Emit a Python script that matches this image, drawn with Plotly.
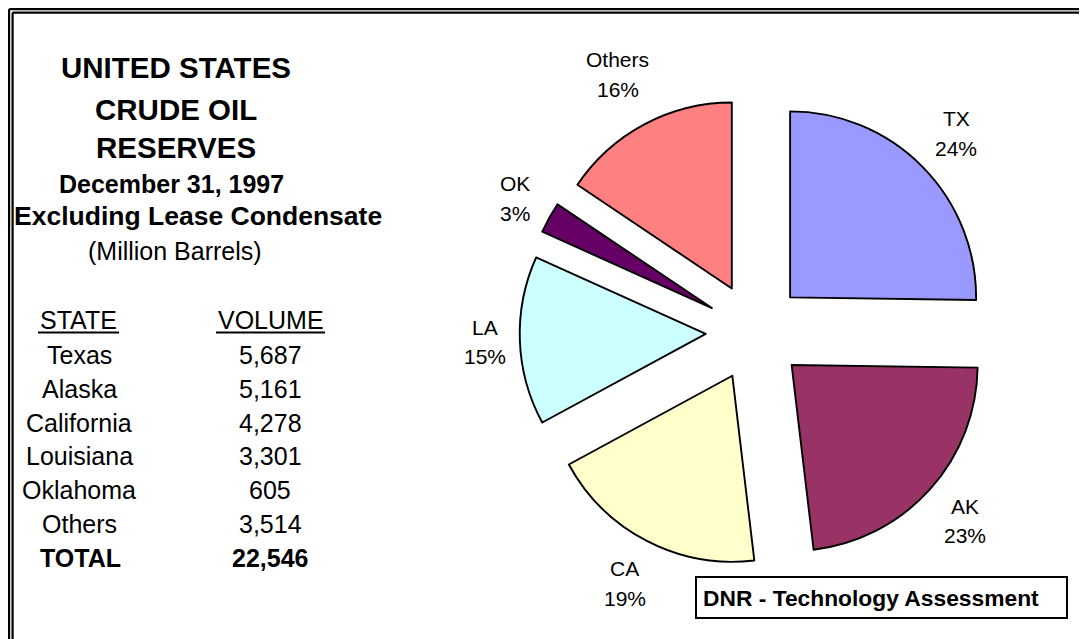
import math
import plotly.graph_objects as go

# ---- data ----
states = ["Texas", "Alaska", "California", "Louisiana", "Oklahoma", "Others"]
volumes = [5687, 5161, 4278, 3301, 605, 3514]
total_volume = 22546
pie_labels = ["TX", "AK", "CA", "LA", "OK", "Others"]
pie_pct_labels = ["24%", "23%", "19%", "15%", "3%", "16%"]
slice_colors = ["#9999FF", "#993366", "#FFFFCC", "#CCFFFF", "#660066", "#FF8080"]

title_lines = ["UNITED STATES", "CRUDE OIL", "RESERVES"]
sub_lines = ["December 31, 1997", "Excluding Lease Condensate"]
unit_line = "(Million Barrels)"
col_headers = ["STATE", "VOLUME"]
footer_text = "DNR - Technology Assessment"

W, H = 1087, 639
OX, OY = 8, 8          # page body offset of the plot div
FONT = "Arial, Liberation Sans, sans-serif"


def px(x):
    return (x - OX) / W


def py(y):
    return 1 - (y - OY) / H


# ---- pie layout (page pixels) ----
PULL = 0.265
PIE_CX, PIE_CY, PIE_HALF = 755, 332, 235.3
dom_x = [px(PIE_CX - PIE_HALF), px(PIE_CX + PIE_HALF)]
dom_y = [py(PIE_CY + PIE_HALF), py(PIE_CY - PIE_HALF)]

fig = go.Figure()
fig.add_trace(go.Pie(
    labels=pie_labels,
    values=volumes,
    textinfo="none",
    marker=dict(colors=slice_colors, line=dict(color="black", width=1.9)),
    pull=[PULL] * len(volumes),
    sort=False,
    direction="clockwise",
    rotation=0,
    showlegend=False,
    hoverinfo="skip",
    domain=dict(x=dom_x, y=dom_y),
))

annotations = []


def add_text(txt, x, y, size, bold=False, xanchor="center"):
    annotations.append(dict(
        text=f"<b>{txt}</b>" if bold else txt,
        x=px(x), y=py(y), xref="paper", yref="paper",
        xanchor=xanchor, yanchor="middle", showarrow=False,
        font=dict(family=FONT, size=size, color="black"),
    ))


# ---- slice labels placed outside each slice, along its bisector ----
LFS = 21
LSP = 29.5
GAP = 17
box_px = min((dom_x[1] - dom_x[0]) * W, (dom_y[1] - dom_y[0]) * H)
r = box_px / (2 * (1 + PULL))
r_out = r * (1 + PULL)
total = sum(volumes)
cum = 0
for lab, pct, v in zip(pie_labels, pie_pct_labels, volumes):
    th = 2 * math.pi * (cum + v / 2) / total
    cum += v
    sx, sy = math.sin(th), -math.cos(th)
    hw = 0.5 * max(len(lab), len(pct)) * 0.55 * LFS
    hh = 26
    d = r_out + GAP + hw * abs(sx) + hh * abs(sy)
    lx, ly = PIE_CX + d * sx, PIE_CY + d * sy
    add_text(lab, lx, ly - LSP / 2, LFS)
    add_text(pct, lx, ly + LSP / 2, LFS)

# ---- title block ----
title_y = [67, 109, 147]
for t, yy in zip(title_lines, title_y):
    add_text(t, 176, yy, 29.5, bold=True)
add_text(sub_lines[0], 171, 184, 25, bold=True)
add_text(sub_lines[1], 198, 216, 26.5, bold=True)
add_text(unit_line, 175, 251, 25)

# ---- table ----
shapes = []
STATE_X, VOL_X = 78, 270
for hdr, cx, (ux0, ux1) in zip(col_headers, (STATE_X, VOL_X + 1), ((38, 119), (216, 325))):
    add_text(hdr, cx, 320, 25)
    shapes.append(dict(type="line", xref="paper", yref="paper",
                       x0=px(ux0), x1=px(ux1), y0=py(332.5), y1=py(332.5),
                       line=dict(color="black", width=2)))
row0, dy = 355, 33.8
for i, (s, v) in enumerate(zip(states, volumes)):
    add_text(s, STATE_X + 1, row0 + i * dy, 25)
    add_text(f"{v:,}", VOL_X, row0 + i * dy, 25)
add_text("TOTAL", STATE_X + 2, row0 + len(states) * dy, 25, bold=True)
add_text(f"{total_volume:,}", VOL_X, row0 + len(states) * dy, 25, bold=True)

# ---- footer box ----
annotations.append(dict(
    text=f"<b>{footer_text}</b>",
    x=px(695), y=py(597.5), xref="paper", yref="paper",
    xanchor="left", yanchor="middle", showarrow=False, align="left",
    font=dict(family=FONT, size=22.8, color="black"),
    bordercolor="black", borderwidth=2, borderpad=6, bgcolor="white",
    width=357, height=27,
))

# ---- double frame (left & top visible) ----
for off in (9.1, 12.6):
    shapes.append(dict(type="line", xref="paper", yref="paper",
                       x0=px(off), y0=py(off), x1=px(off), y1=-0.1,
                       line=dict(color="black", width=2.2)))
    shapes.append(dict(type="line", xref="paper", yref="paper",
                       x0=px(off), y0=py(off), x1=1.1, y1=py(off),
                       line=dict(color="black", width=2.2)))

fig.update_layout(
    width=W, height=H, autosize=False,
    margin=dict(l=0, r=0, t=0, b=0, pad=0, autoexpand=False),
    paper_bgcolor="white", plot_bgcolor="white",
    annotations=annotations, shapes=shapes,
    font=dict(family=FONT),
)

fig.write_html("out.html")
